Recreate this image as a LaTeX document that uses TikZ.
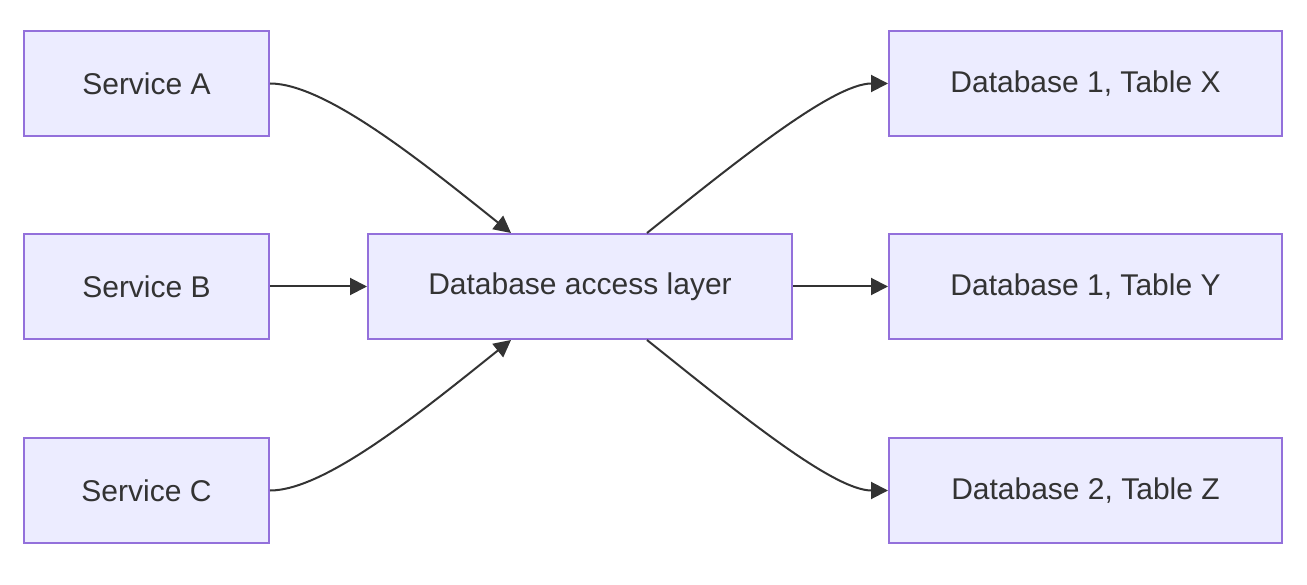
\documentclass[tikz,border=0pt]{standalone}
\usepackage{fontspec}
\setmainfont{Liberation Sans}
\usetikzlibrary{arrows.meta}
\definecolor{boxfill}{HTML}{ECECFF}
\definecolor{boxline}{HTML}{9370DB}
\definecolor{ink}{HTML}{333333}
\begin{document}
\begin{tikzpicture}[x=1pt,y=-1pt,
  box/.style={draw=boxline,fill=boxfill,line width=2pt,anchor=north west,inner sep=0pt,
    text=ink,font=\fontsize{30}{34}\selectfont},
  conn/.style={draw=ink,line width=2pt,-{Triangle[length=17pt,width=17pt]}}]
\useasboundingbox (0,0) rectangle (1307,585);
\node[box,minimum width=245pt,minimum height=105pt] (sa) at (23,30) {Service A};
\node[box,minimum width=245pt,minimum height=105pt] (sb) at (23,233) {Service B};
\node[box,minimum width=245pt,minimum height=105pt] (sc) at (23,437) {Service C};
\node[box,minimum width=424pt,minimum height=105pt] (dal) at (367,233) {Database access layer};
\node[box,minimum width=393pt,minimum height=105pt] (dx) at (888,30) {Database 1, Table X};
\node[box,minimum width=393pt,minimum height=105pt] (dy) at (888,233) {Database 1, Table Y};
\node[box,minimum width=393pt,minimum height=105pt] (dz) at (888,437) {Database 2, Table Z};
\coordinate (dalnw) at ([xshift=-69pt]dal.north);
\coordinate (dalsw) at ([xshift=-69pt]dal.south);
\coordinate (dalne) at ([xshift=67pt]dal.north);
\coordinate (dalse) at ([xshift=67pt]dal.south);
\draw[conn] (sa.east) .. controls +(55,0) and +(-90,-72) .. (dalnw);
\draw[conn] (sb.east) -- (dal.west);
\draw[conn] (sc.east) .. controls +(55,0) and +(-90,72) .. (dalsw);
\draw[conn] (dalne) .. controls +(90,-72) and +(-55,0) .. (dx.west);
\draw[conn] (dal.east) -- (dy.west);
\draw[conn] (dalse) .. controls +(90,72) and +(-55,0) .. (dz.west);
\end{tikzpicture}
\end{document}
